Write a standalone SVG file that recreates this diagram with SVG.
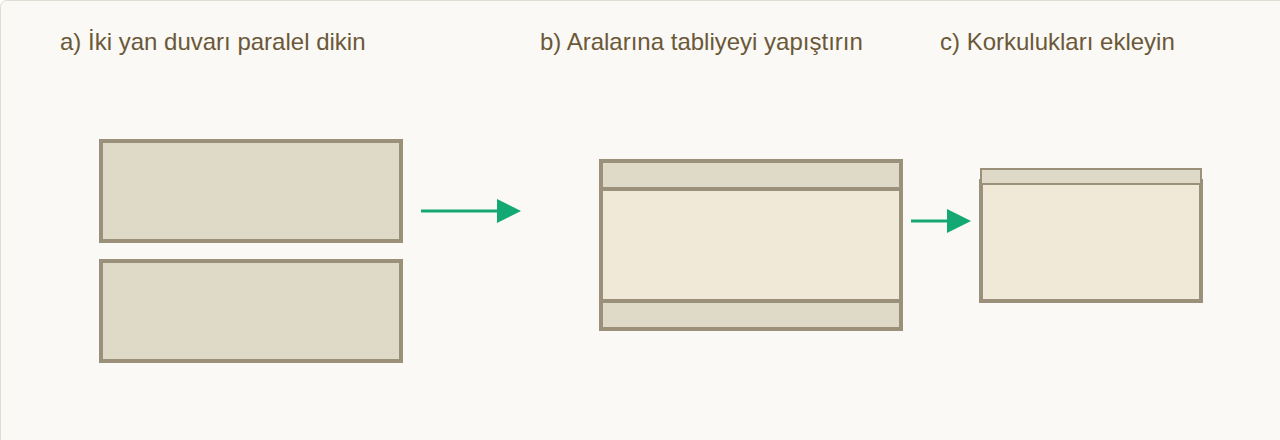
<svg xmlns="http://www.w3.org/2000/svg" width="1280" height="440" viewBox="0 0 1280 440">
<style>
.bg{fill:#faf9f5;stroke:#e2ddd2;stroke-width:1}
.t{font-family:"Liberation Sans",Arial,sans-serif;font-size:24px;fill:#6b5838}
.wall{fill:#dfd9c8;stroke:#9b9079;stroke-width:4}
.body{fill:#f0e9d7;stroke:#9b9079;stroke-width:4}
.rail{fill:#dfd9c8;stroke:#9b9079;stroke-width:2}
.conn{stroke:#13a874;stroke-width:3;fill:none}
.head{fill:#13a874}
</style>
<rect class="bg" x="0.5" y="0.5" width="1300" height="460" rx="6"/>
<g id="labels">
<text class="t" x="60" y="50">a) İki yan duvarı paralel dikin</text>
<text class="t" x="540" y="50">b) Aralarına tabliyeyi yapıştırın</text>
<text class="t" x="940" y="50">c) Korkulukları ekleyin</text>
</g>
<g id="step-a">
<rect class="wall" x="101" y="141" width="300" height="100"/>
<rect class="wall" x="101" y="261" width="300" height="100"/>
</g>
<g id="step-b">
<rect class="body" x="601" y="161" width="300" height="168"/>
<rect class="wall" x="601" y="161" width="300" height="28"/>
<rect class="wall" x="601" y="301" width="300" height="28"/>
</g>
<g id="step-c">
<rect class="body" x="981" y="181" width="220" height="120"/>
<rect class="rail" x="981" y="169" width="220" height="15"/>
</g>
<g id="connectors">
<line class="conn" x1="421" y1="211" x2="499" y2="211"/>
<polygon class="head" points="497,199 521,211 497,223"/>
<line class="conn" x1="911" y1="221" x2="949" y2="221"/>
<polygon class="head" points="947,209 971,221 947,233"/>
</g>
</svg>
